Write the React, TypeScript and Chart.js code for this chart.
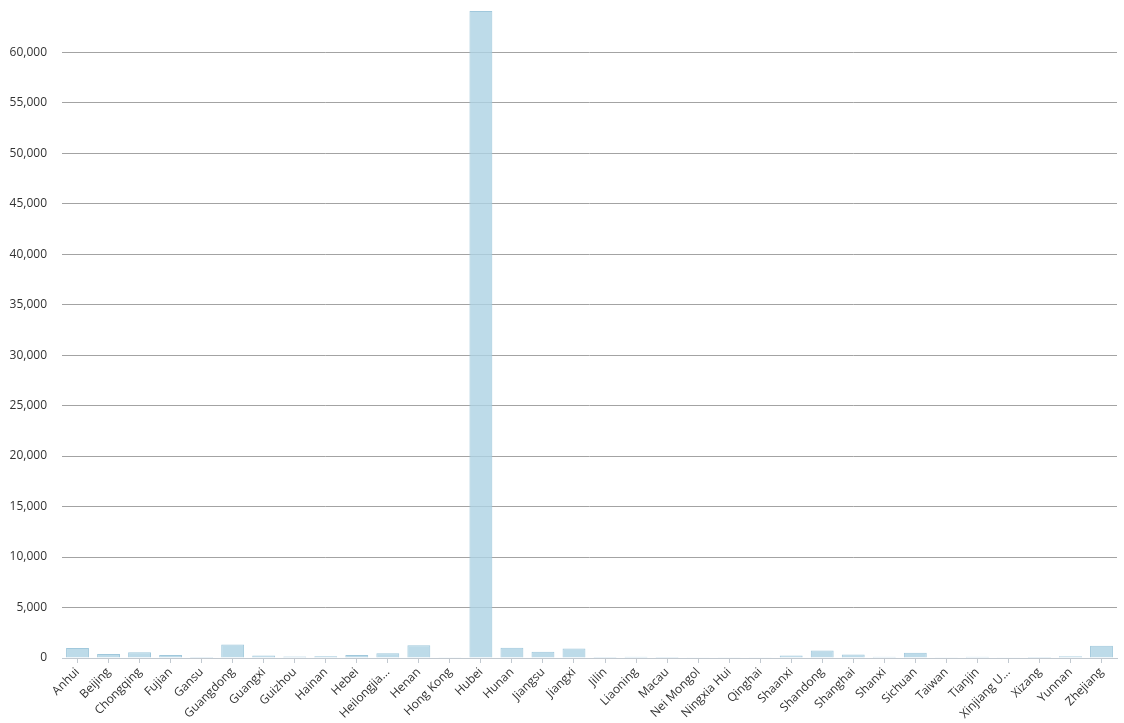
import React, { useEffect, useRef } from "react";
import { Chart, registerables } from "chart.js";

Chart.register(...registerables);

const provinces = [
  "Anhui", "Beijing", "Chongqing", "Fujian", "Gansu", "Guangdong", "Guangxi", "Guizhou",
  "Hainan", "Hebei", "Heilongjiang", "Henan", "Hong Kong", "Hubei", "Hunan", "Jiangsu",
  "Jiangxi", "Jilin", "Liaoning", "Macau", "Nei Mongol", "Ningxia Hui", "Qinghai", "Shaanxi",
  "Shandong", "Shanghai", "Shanxi", "Sichuan", "Taiwan", "Tianjin", "Xinjiang Uygur", "Xizang",
  "Yunnan", "Zhejiang",
];

const confirmed = [
  989, 399, 573, 293, 91, 1339, 249, 146,
  168, 309, 479, 1270, 69, 64084, 1016, 631,
  934, 91, 121, 10, 75, 71, 18, 245,
  749, 335, 132, 526, 26, 135, 76, 1,
  174, 1205,
];

const yTickValues = [0, 5000, 10000, 15000, 20000, 25000, 30000, 35000, 40000, 45000, 50000, 55000, 60000];

export default function App() {
  const ref = useRef<HTMLCanvasElement | null>(null);

  useEffect(() => {
    if (!ref.current) return;
    const chart = new Chart(ref.current, {
      type: "bar",
      data: {
        labels: provinces,
        datasets: [
          {
            data: confirmed,
            backgroundColor: "rgba(173, 210, 228, 0.8)",
            borderColor: "rgba(160, 200, 220, 1)",
            borderWidth: 1,
            categoryPercentage: 0.82,
            barPercentage: 0.9,
          },
        ],
      },
      options: {
        animation: false,
        responsive: true,
        maintainAspectRatio: false,
        layout: { padding: { top: 3, right: 1, left: 0, bottom: 0 } },
        plugins: { legend: { display: false }, tooltip: { enabled: false } },
        scales: {
          x: {
            afterFit: (axis: any) => {
              axis.paddingLeft = 0;
              axis.paddingRight = 0;
              axis.height = 65;
            },
            grid: {
              offset: false,
              drawOnChartArea: false,
              drawTicks: true,
              tickLength: 5,
              color: "#c2c9d0",
            },
            border: { display: true, color: "#c2c9d0", width: 1 },
            ticks: {
              autoSkip: false,
              maxRotation: 45,
              minRotation: 45,
              padding: 2,
              color: "#333",
              font: { family: "'Open Sans'", size: 12 },
              callback: function (this: any, v: any) {
                const s = String(this.getLabelForValue(v));
                return s.length > 11 ? s.slice(0, 10) + "..." : s;
              },
            },
          },
          y: {
            min: 0,
            max: Math.max(...confirmed),
            afterBuildTicks: (axis: any) => {
              axis.ticks = yTickValues.map((value) => ({ value }));
            },
            afterFit: (axis: any) => {
              axis.paddingTop = 0;
              axis.paddingBottom = 0;
              axis.width = 54;
            },
            grid: { color: "#a3a3a3", drawTicks: false, lineWidth: 1 },
            border: { display: false },
            ticks: {
              padding: 15,
              color: "#333",
              font: { family: "'Open Sans'", size: 12 },
              callback: (v: any) => Number(v).toLocaleString("en-US"),
            },
          },
        },
      },
    });
    return () => chart.destroy();
  }, []);

  return (
    <div style={{ position: "fixed", left: 8, top: 8, width: 1110, height: 715 }}>
      <canvas ref={ref} />
    </div>
  );
}
